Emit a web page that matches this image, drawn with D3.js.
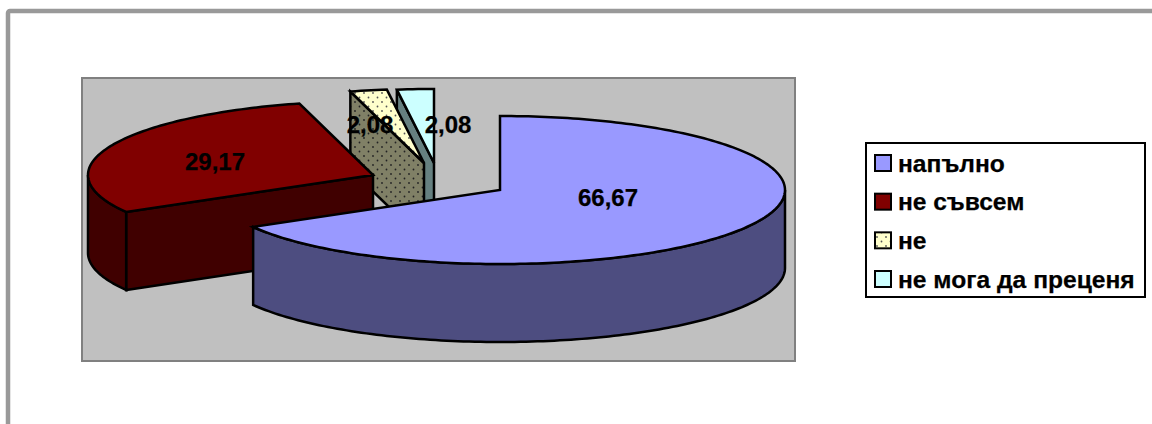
<!DOCTYPE html>
<html><head><meta charset="utf-8">
<script src="https://cdn.jsdelivr.net/npm/d3@7/dist/d3.min.js"></script>
<style>html,body{margin:0;padding:0;background:#fff}svg{display:block}text{font-family:"Liberation Sans",Arial,sans-serif;font-weight:bold;fill:#000;stroke:#000;stroke-width:.25}</style>
</head><body><svg id="c" width="1152" height="424"></svg>
<script>
const categories = ["напълно","не съвсем","не","не мога да преценя"];
const values = [66.67,29.17,2.08,2.08];
const topColors = ["#9999ff","#800000","#ffffcc","#ccffff"];
const sideColors = ["#4d4d80","#400000","#808066","#668080"];
const apexes = [[500,190],[373,175],[424,163],[434,163]];
const labelPos = [[608,197],[215,161],[370,124],[448,124]];
const RX=285, RY=74, DEPTH=78;

const svg=d3.select("#c");
const defs=svg.append("defs");
function dots(id,bg,dot){
  const p=defs.append("pattern").attr("id",id).attr("width",9).attr("height",9).attr("patternUnits","userSpaceOnUse").attr("x",2).attr("y",1);
  p.append("rect").attr("width",9).attr("height",9).attr("fill",bg);
  [[2,2],[6.5,6.5]].forEach(d=>p.append("circle").attr("cx",d[0]).attr("cy",d[1]).attr("r",0.9).attr("fill",dot));
}
dots("pTop","#ffffcc","#555");
dots("pSide","#808066","#222");

svg.append("rect").attr("x",8).attr("y",11).attr("width",1160).attr("height",430).attr("rx",2)
  .attr("fill","#fff").attr("stroke","#999").attr("stroke-width",4.5);
svg.append("rect").attr("x",82).attr("y",78).attr("width",713).attr("height",283)
  .attr("fill","#c0c0c0").attr("stroke","#808080").attr("stroke-width",2);

const arcs=d3.pie().sort(null).value(d=>d)(values);
const sx=d3.scaleLinear().domain([-1,1]).range([-RX,RX]);
const sy=d3.scaleLinear().domain([-1,1]).range([RY,-RY]);
const pt=(c,a,dy=0)=>[c[0]+sx(Math.sin(a)),c[1]+sy(Math.cos(a))+dy];
const line=d3.line();
const sample=(a,b)=>{const n=Math.max(2,Math.ceil(Math.abs(b-a)/0.02));return d3.range(n+1).map(i=>a+(b-a)*i/n);};

const stroke=s=>s.attr("stroke","#000").attr("stroke-width",2.5).attr("stroke-linejoin","miter");
const g=svg.append("g");
[3,2,1,0].forEach(i=>{
  const c=apexes[i],s=arcs[i].startAngle,e=arcs[i].endAngle,top=sample(s,e);
  const topFill=i===2?"url(#pTop)":topColors[i], sideFill=i===2?"url(#pSide)":sideColors[i];
  const pA=pt(c,s);
  if(i!==0){
    stroke(g.append("path").attr("d",line([c,pA,[pA[0],pA[1]+DEPTH],[c[0],c[1]+DEPTH]])+"Z").attr("fill",sideFill));
  }
  const a0=Math.max(s,Math.PI/2), a1=Math.min(e,Math.PI*1.5);
  if(a1>a0){
    const rim=sample(a0,a1);
    const pts=rim.map(a=>pt(c,a)).concat(rim.slice().reverse().map(a=>pt(c,a,DEPTH)));
    stroke(g.append("path").attr("d",line(pts)+"Z").attr("fill",sideFill));
  }
  stroke(g.append("path").attr("d",line([c].concat(top.map(a=>pt(c,a))))+"Z").attr("fill",topFill));
});

g.selectAll("text.v").data(values).join("text").attr("class","v")
  .attr("x",(d,i)=>labelPos[i][0]).attr("y",(d,i)=>labelPos[i][1])
  .attr("text-anchor","middle").attr("dominant-baseline","central")
  .attr("font-size",24).text(d=>d3.format(".2f")(d).replace(".",","));

const leg=svg.append("g");
leg.append("rect").attr("x",866).attr("y",143).attr("width",279).attr("height",154)
  .attr("fill","#fff").attr("stroke","#000").attr("stroke-width",2);
const rowY=d3.scalePoint().domain(categories).range([163,279]);
categories.forEach((c,i)=>{
  const y=rowY(c);
  leg.append("rect").attr("x",875).attr("y",y-8).attr("width",16).attr("height",16)
    .attr("fill",i===2?"url(#pTop)":topColors[i]).attr("stroke","#000").attr("stroke-width",2);
  leg.append("text").attr("x",898).attr("y",y).attr("dominant-baseline","central").attr("font-size",24.6).text(c);
});
</script></body></html>
